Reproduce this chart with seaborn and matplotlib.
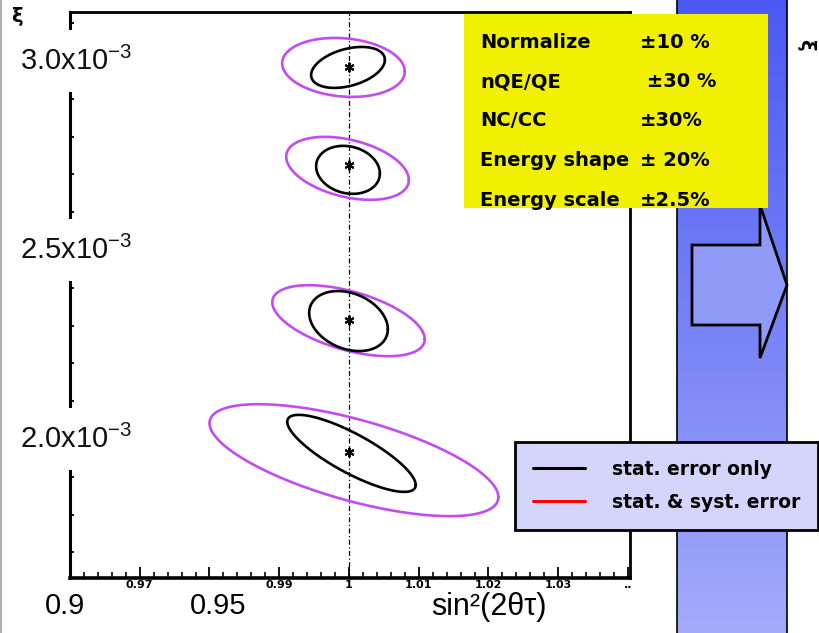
import numpy as np
import pandas as pd
import matplotlib
matplotlib.use("Agg")
import matplotlib.pyplot as plt
import matplotlib.transforms as mtransforms
from matplotlib.patches import Rectangle, Polygon
from matplotlib.lines import Line2D
import seaborn as sns

# Best-fit points (sin^2 2theta, dm^2 in 1e-3 eV^2)
fit_sin2 = [1.0, 1.0, 1.0, 1.0]
fit_dm2 = [2.984, 2.725, 2.315, 1.966]

# Statistical-only contours: centre, half-widths and correlation
stat_sin2 = [0.99986, 0.99986, 0.99993, 1.00036]
stat_dm2 = [2.983, 2.712, 2.312, 1.962]
stat_dsin2 = [0.00529, 0.00457, 0.00564, 0.00921]
stat_ddm2 = [0.0542, 0.0635, 0.0794, 0.1019]
stat_rho = [0.37, -0.15, -0.27, -0.82]

# Statistical + systematic contours
syst_sin2 = [0.99921, 0.99979, 0.99993, 1.00071]
syst_dm2 = [2.983, 2.716, 2.313, 1.944]
syst_dsin2 = [0.00879, 0.00879, 0.01093, 0.02071]
syst_ddm2 = [0.0780, 0.0833, 0.0939, 0.1481]
syst_rho = [-0.14, -0.37, -0.52, -0.66]

# Systematic error table
syst_names = ["Normalize", "nQE/QE", "NC/CC", "Energy shape", "Energy scale"]
syst_sizes = ["±10 %", " ±30 %", "±30%", "± 20%", "±2.5%"]

legend_labels = ["stat. error only", "stat. & syst. error"]

y_ticks = [2.0, 2.5, 3.0]
y_tick_labels = [r"2.0x10$^{\mathregular{-3}}$", r"2.5x10$^{\mathregular{-3}}$",
                 r"3.0x10$^{\mathregular{-3}}$"]
x_ticks = [0.96, 0.97, 0.98, 0.99, 1.00, 1.01, 1.02, 1.03, 1.04]
x_tick_labels = ["", "0.97", "", "0.99", "1", "1.01", "1.02", "1.03", ".."]
note_labels = ["0.9", "0.95"]
x_title = "sin²(2θτ)"

PURPLE = "#c24cf2"

sns.set_theme(style="white")
plt.rcParams["mathtext.fontset"] = "custom"
plt.rcParams["mathtext.rm"] = "Liberation Sans"
plt.rcParams["font.family"] = ["DejaVu Sans"]
plt.rcParams["text.color"] = "black"

W, H = 819, 633
fig = plt.figure(figsize=(W / 100, H / 100), dpi=100)
fig.patch.set_facecolor("white")


def frac(x0, y0, x1, y1):
    return [x0 / W, 1 - y1 / H, (x1 - x0) / W, (y1 - y0) / H]


# ---- main contour panel ----
ax = fig.add_axes(frac(70, 12, 630, 578), zorder=1)
ax.set_xlim(0.96029, 1.04029)
ax.set_ylim(1.6323, 3.1296)


def contour(cx, cy, sx, sy, rho, unit):
    t = np.linspace(0, 2 * np.pi, 241)
    x = cx + sx * np.cos(t)
    y = cy + sy * (rho * np.cos(t) + np.sqrt(1 - rho ** 2) * np.sin(t))
    return pd.DataFrame({"sin2": x, "dm2": y, "unit": unit})


syst_df = pd.concat([contour(*p, i) for i, p in enumerate(
    zip(syst_sin2, syst_dm2, syst_dsin2, syst_ddm2, syst_rho))])
stat_df = pd.concat([contour(*p, i) for i, p in enumerate(
    zip(stat_sin2, stat_dm2, stat_dsin2, stat_ddm2, stat_rho))])

sns.lineplot(data=syst_df, x="sin2", y="dm2", units="unit", estimator=None,
             sort=False, color=PURPLE, lw=1.9, ax=ax, legend=False)
sns.lineplot(data=stat_df, x="sin2", y="dm2", units="unit", estimator=None,
             sort=False, color="black", lw=1.9, ax=ax, legend=False)
sns.scatterplot(x=fit_sin2, y=fit_dm2, marker=(6, 2, 0), s=35, color="black",
                linewidth=1.5, ax=ax, zorder=5)
ax.axvline(1.0, color="black", lw=0.9, ls=(0, (4, 2, 1, 2)), zorder=0)

ax.set_xlabel("")
ax.set_ylabel("")
ax.set_xticks(x_ticks)
ax.set_xticklabels(x_tick_labels, fontsize=8, fontweight="heavy", color="black")
ax.set_xticks(np.arange(0.962, 1.040, 0.002), minor=True)
ax.set_yticks(y_ticks)
ax.set_yticklabels([])
ax.set_yticks(np.arange(1.7, 3.11, 0.1), minor=True)
ax.tick_params(axis="x", which="major", direction="in", length=8, width=1.3,
               pad=1.5, colors="black", bottom=True)
ax.tick_params(axis="x", which="minor", direction="in", length=4, width=1.2,
               color="black", bottom=True)
ax.tick_params(axis="y", which="both", direction="in", length=3, width=1.3,
               color="black", left=True)
for side, lw in [("left", 2.2), ("bottom", 2.6), ("top", 2.0), ("right", 2.0)]:
    ax.spines[side].set_color("black")
    ax.spines[side].set_linewidth(lw)

# ---- blue side band ----
band = fig.add_axes(frac(677, 0, 787, H), zorder=3)
grad = np.linspace(0, 1, 256)[:, None]
cmap = matplotlib.colors.LinearSegmentedColormap.from_list(
    "band", ["#4a59f2", "#7682f6", "#a3abfa"])
band.imshow(grad, aspect="auto", cmap=cmap, extent=[0, 1, 1, 0])
band.set_xticks([])
band.set_yticks([])
for side in ["top", "bottom"]:
    band.spines[side].set_visible(False)
for side in ["left", "right"]:
    band.spines[side].set_color("black")
    band.spines[side].set_linewidth(1.2)

# ---- annotation layer in pixel coordinates ----
ov = fig.add_axes([0, 0, 1, 1], zorder=5)
ov.set_xlim(0, W)
ov.set_ylim(H, 0)
ov.axis("off")

ov.plot([1, 1], [0, H], color="#b0b0b0", lw=1.5)

ov.add_patch(Polygon([(692, 245), (760, 245), (760, 205), (787, 285), (760, 358),
                      (760, 325), (692, 325)], closed=True, facecolor="#8f9bf6",
                     edgecolor="black", lw=2, zorder=1))

ov.add_patch(Rectangle((464, 14), 304, 194, facecolor="#f0f000",
                       edgecolor="none", zorder=2))
row_y = np.linspace(42, 200, len(syst_names))
for name, size, y in zip(syst_names, syst_sizes, row_y):
    ov.text(480, y, name, fontsize=14, fontweight="bold", ha="left",
            va="center", color="black", zorder=3)
    ov.text(640, y, size, fontsize=14, fontweight="bold", ha="left",
            va="center", color="black", zorder=3)

ylab_tf = mtransforms.blended_transform_factory(ov.transData, ax.transData)
for v, lab in zip(y_ticks, y_tick_labels):
    ov.text(76, v, lab, transform=ylab_tf, fontsize=21, family="Liberation Sans",
            ha="center", va="center", color="#111111", zorder=4,
            bbox=dict(boxstyle="square,pad=0.55", facecolor="white",
                      edgecolor="none"))

narrow = ["Liberation Sans Narrow", "Liberation Sans"]
for lab, x in zip(note_labels, [65, 218]):
    ov.text(x, 606, lab, fontsize=21, family=narrow, ha="center",
            va="center", color="black", zorder=4,
            bbox=dict(boxstyle="square,pad=0.1", facecolor="white",
                      edgecolor="none"))
ov.text(489, 607, x_title, fontsize=22, family=narrow, ha="center",
        va="center", color="black", zorder=4)

ov.text(17, 16, "ξ", fontsize=14, fontweight="bold", ha="center", va="center",
        color="black", zorder=4)
ov.text(806, 45, "ξ", fontsize=14, fontweight="bold", rotation=-90,
        ha="center", va="center", color="black", zorder=4)

handles = [Line2D([], [], color="black", lw=2.2),
           Line2D([], [], color="red", lw=2.2)]
leg = ov.legend(handles, legend_labels, loc="upper left",
                bbox_to_anchor=(515, 442), bbox_transform=ov.transData,
                prop=dict(size=13.5, weight="bold"), frameon=True,
                fancybox=False, framealpha=1, facecolor="#d3d6fa",
                edgecolor="black", borderpad=0.95, labelspacing=0.75,
                handlelength=2.8, handletextpad=1.4, borderaxespad=0,
                labelcolor="black")
leg.get_frame().set_linewidth(2)

fig.savefig("out.png", dpi=100, facecolor="white")
